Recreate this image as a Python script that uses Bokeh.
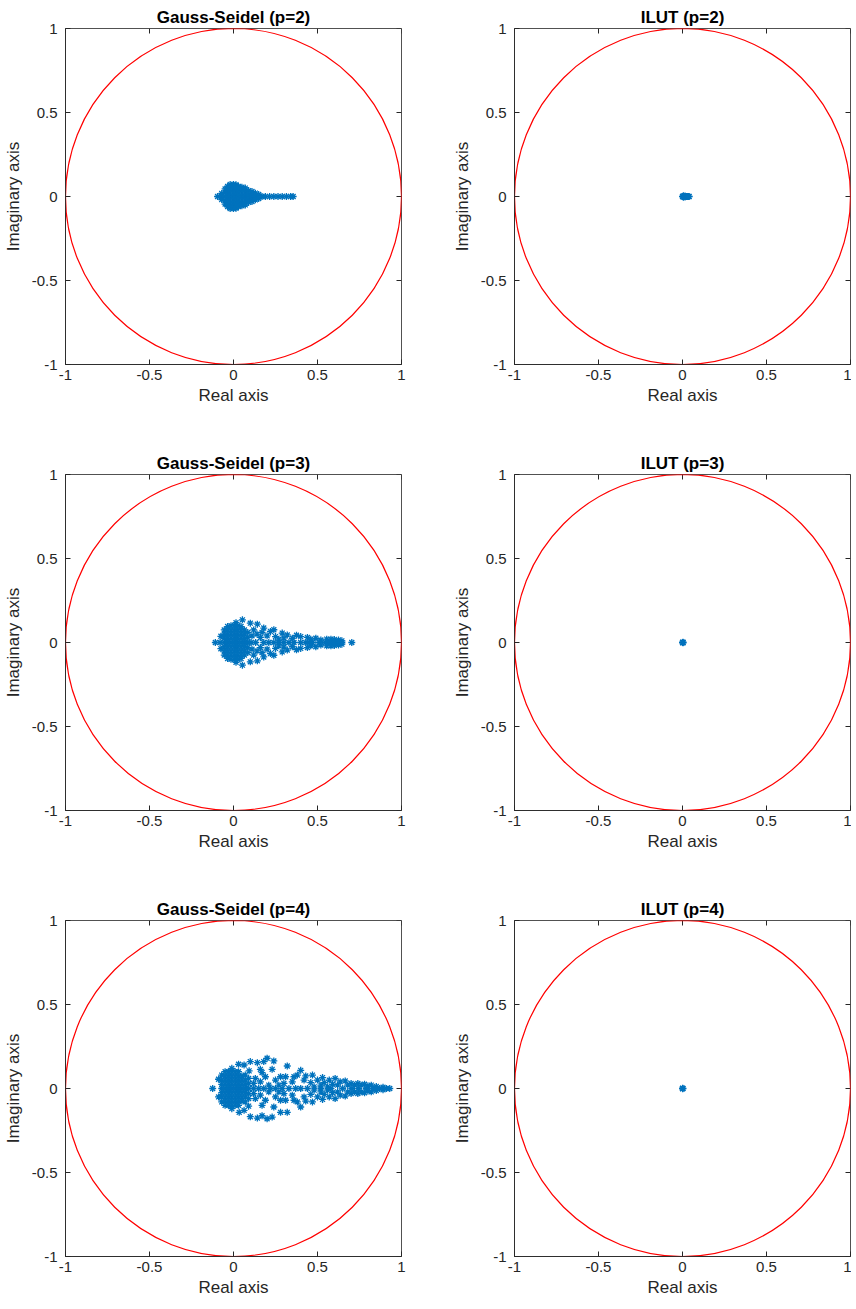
from bokeh.plotting import figure
from bokeh.layouts import gridplot
from bokeh.models import Range1d, FixedTicker, ColumnDataSource
from bokeh.embed import file_html
from bokeh.resources import INLINE

# ---------------- data ----------------
tick_values = [-1, -0.5, 0, 0.5, 1]
tick_labels = ["-1", "-0.5", "0", "0.5", "1"]
circle_center_x = [0.0]
circle_center_y = [0.0]
circle_radius = [1.0]

titles = ["Gauss-Seidel (p=2)", "ILUT (p=2)",
          "Gauss-Seidel (p=3)", "ILUT (p=3)",
          "Gauss-Seidel (p=4)", "ILUT (p=4)"]

# eigenvalues (real, imag)
gs2_points = [
    (-0.095, 0.0),
    (-0.07, 0.0), (-0.07, 0.018), (-0.07, -0.018),
    (-0.05, 0.0), (-0.05, 0.025), (-0.05, -0.025), (-0.05, 0.045), (-0.05, -0.045),
    (-0.035, 0.0), (-0.035, 0.02), (-0.035, -0.02), (-0.035, 0.04), (-0.035, -0.04), (-0.035, 0.06), (-0.035, -0.06),
    (-0.02, 0.0), (-0.02, 0.02), (-0.02, -0.02), (-0.02, 0.04), (-0.02, -0.04), (-0.02, 0.06), (-0.02, -0.06), (-0.02, 0.072), (-0.02, -0.072),
    (0.0, 0.0), (0.0, 0.02), (0.0, -0.02), (0.0, 0.04), (0.0, -0.04), (0.0, 0.06), (0.0, -0.06), (0.0, 0.072), (0.0, -0.072),
    (0.015, 0.0), (0.015, 0.02), (0.015, -0.02), (0.015, 0.04), (0.015, -0.04), (0.015, 0.06), (0.015, -0.06), (0.015, 0.07), (0.015, -0.07),
    (0.03, 0.0), (0.03, 0.02), (0.03, -0.02), (0.03, 0.04), (0.03, -0.04), (0.03, 0.06), (0.03, -0.06),
    (0.05, 0.0), (0.05, 0.02), (0.05, -0.02), (0.05, 0.04), (0.05, -0.04), (0.05, 0.055), (0.05, -0.055),
    (0.07, 0.0), (0.07, 0.02), (0.07, -0.02), (0.07, 0.04), (0.07, -0.04), (0.07, 0.05), (0.07, -0.05),
    (0.09, 0.0), (0.09, 0.015), (0.09, -0.015), (0.09, 0.035), (0.09, -0.035),
    (0.11, 0.0), (0.11, 0.015), (0.11, -0.015), (0.11, 0.03), (0.11, -0.03),
    (0.13, 0.0), (0.13, 0.02), (0.13, -0.02),
    (0.15, 0.0), (0.15, 0.012), (0.15, -0.012),
    (0.17, 0.0), (0.19, 0.0), (0.215, 0.0), (0.24, 0.0), (0.265, 0.0),
    (0.29, 0.0), (0.315, 0.0), (0.34, 0.0), (0.355, 0.0),
]

gs3_points = [
    (-0.108, 0.0), (-0.08, 0.0), (-0.075, 0.037), (-0.075, -0.037),
    (-0.055, 0.0), (-0.055, 0.025), (-0.055, -0.025), (-0.055, 0.05), (-0.055, -0.05), (-0.055, 0.075), (-0.055, -0.075),
    (-0.035, 0.0), (-0.035, 0.025), (-0.035, -0.025), (-0.035, 0.05), (-0.035, -0.05), (-0.035, 0.075), (-0.035, -0.075), (-0.035, 0.095), (-0.035, -0.095),
    (-0.015, 0.0), (-0.015, 0.025), (-0.015, -0.025), (-0.015, 0.05), (-0.015, -0.05), (-0.015, 0.075), (-0.015, -0.075), (-0.015, 0.1), (-0.015, -0.1),
    (0.005, 0.0), (0.005, 0.025), (0.005, -0.025), (0.005, 0.05), (0.005, -0.05), (0.005, 0.075), (0.005, -0.075), (0.005, 0.1), (0.005, -0.1),
    (0.015, 0.118), (0.015, -0.118),
    (0.025, 0.0), (0.025, 0.025), (0.025, -0.025), (0.025, 0.05), (0.025, -0.05), (0.025, 0.075), (0.025, -0.075), (0.025, 0.1), (0.025, -0.1),
    (0.045, 0.0), (0.045, 0.025), (0.045, -0.025), (0.045, 0.05), (0.045, -0.05), (0.045, 0.075), (0.045, -0.075), (0.045, 0.095), (0.045, -0.095),
    (0.053, 0.135), (0.053, -0.135),
    (0.065, 0.0), (0.065, 0.025), (0.065, -0.025), (0.065, 0.05), (0.065, -0.05), (0.065, 0.075), (0.065, -0.075),
    (0.085, 0.0), (0.085, 0.03), (0.085, -0.03), (0.085, 0.06), (0.085, -0.06),
    (0.1, 0.115), (0.1, -0.115), (0.142, 0.109), (0.142, -0.109), (0.18, 0.086), (0.18, -0.086),
    (0.22, 0.066), (0.22, -0.066), (0.24, 0.076), (0.24, -0.076), (0.29, 0.056), (0.29, -0.056),
    (0.3, 0.027), (0.3, -0.027),
    (0.11, 0.04), (0.11, -0.04), (0.12, 0.075), (0.12, -0.075), (0.14, 0.05), (0.14, -0.05),
    (0.16, 0.03), (0.16, -0.03), (0.17, 0.06), (0.17, -0.06), (0.2, 0.04), (0.2, -0.04),
    (0.25, 0.035), (0.25, -0.035), (0.27, 0.02), (0.27, -0.02),
    (0.105, 0.0), (0.132, 0.0), (0.18, 0.0), (0.21, 0.0), (0.24, 0.0), (0.27, 0.0), (0.3, 0.0),
    (0.33, 0.0), (0.36, 0.0), (0.4, 0.0), (0.43, 0.0), (0.45, 0.0), (0.47, 0.0), (0.51, 0.0),
    (0.546, 0.0), (0.566, 0.0), (0.586, 0.0), (0.605, 0.0), (0.625, 0.0), (0.645, 0.0), (0.704, 0.0),
    (0.32, 0.045), (0.32, -0.045), (0.375, 0.043), (0.375, -0.043), (0.35, 0.025), (0.35, -0.025),
    (0.4, 0.035), (0.4, -0.035), (0.44, 0.03), (0.44, -0.03), (0.46, 0.02), (0.46, -0.02),
    (0.49, 0.025), (0.49, -0.025), (0.52, 0.015), (0.52, -0.015), (0.555, 0.02), (0.555, -0.02),
    (0.58, 0.02), (0.58, -0.02), (0.6, 0.018), (0.6, -0.018), (0.625, 0.015), (0.625, -0.015),
    (0.645, 0.01), (0.645, -0.01),
]

gs4_points = [
    (-0.124, 0.0), (-0.089, 0.055), (-0.089, -0.05),
    (-0.07, 0.0), (-0.07, 0.025), (-0.07, -0.025), (-0.07, 0.05), (-0.07, -0.05), (-0.07, 0.08), (-0.07, -0.08),
    (-0.05, 0.0), (-0.05, 0.025), (-0.05, -0.025), (-0.05, 0.05), (-0.05, -0.05), (-0.05, 0.075), (-0.05, -0.075), (-0.05, 0.1), (-0.05, -0.1),
    (-0.03, 0.0), (-0.03, 0.025), (-0.03, -0.025), (-0.03, 0.05), (-0.03, -0.05), (-0.03, 0.075), (-0.03, -0.075), (-0.03, 0.1), (-0.03, -0.1),
    (-0.01, 0.0), (-0.01, 0.025), (-0.01, -0.025), (-0.01, 0.05), (-0.01, -0.05), (-0.01, 0.075), (-0.01, -0.075), (-0.01, 0.1), (-0.01, -0.1), (-0.01, 0.12), (-0.01, -0.12),
    (0.01, 0.0), (0.01, 0.025), (0.01, -0.025), (0.01, 0.05), (0.01, -0.05), (0.01, 0.075), (0.01, -0.075), (0.01, 0.1), (0.01, -0.1),
    (0.03, 0.0), (0.03, 0.025), (0.03, -0.025), (0.03, 0.05), (0.03, -0.05), (0.03, 0.075), (0.03, -0.075), (0.03, 0.1), (0.03, -0.1), (0.03, 0.144), (0.034, -0.142),
    (0.05, 0.0), (0.05, 0.025), (0.05, -0.025), (0.05, 0.05), (0.05, -0.05), (0.05, 0.075), (0.05, -0.075),
    (0.07, 0.0), (0.07, 0.025), (0.07, -0.025), (0.07, 0.05), (0.07, -0.05), (0.07, 0.08), (0.07, -0.08),
    (0.09, 0.0), (0.09, 0.03), (0.09, -0.03), (0.09, 0.06), (0.09, -0.06), (0.093, 0.105), (0.09, -0.105),
    (0.063, 0.14), (0.1, 0.16), (0.142, 0.154), (0.18, 0.16), (0.2, 0.18), (0.23, 0.114), (0.32, 0.134),
    (0.17, 0.095), (0.24, 0.164), (0.16, 0.114), (0.4, 0.108), (0.38, 0.08),
    (0.063, -0.13), (0.1, -0.168), (0.142, -0.176), (0.17, -0.162), (0.2, -0.18), (0.23, -0.17),
    (0.32, -0.142), (0.28, -0.142), (0.17, -0.1), (0.24, -0.11), (0.4, -0.11), (0.38, -0.08),
    (0.12, 0.03), (0.12, -0.03), (0.13, 0.06), (0.13, -0.06), (0.15, 0.0), (0.16, 0.04), (0.16, -0.04),
    (0.19, 0.07), (0.19, -0.07), (0.21, 0.02), (0.21, -0.02), (0.22, 0.0), (0.25, 0.05), (0.25, -0.05),
    (0.27, 0.02), (0.27, -0.02), (0.28, 0.07), (0.28, -0.07), (0.31, 0.07), (0.31, -0.07),
    (0.3, 0.03), (0.3, -0.03), (0.33, 0.0), (0.35, 0.04), (0.35, -0.04), (0.36, 0.07), (0.36, -0.07),
    (0.12, 0.0), (0.18, 0.0), (0.25, 0.0), (0.29, 0.0), (0.37, 0.0), (0.4, 0.0), (0.52, 0.0), (0.58, 0.0),
    (0.42, 0.05), (0.42, -0.05), (0.43, 0.075), (0.43, -0.075), (0.44, 0.0), (0.46, 0.035), (0.46, -0.035),
    (0.47, 0.08), (0.47, -0.08), (0.48, 0.01), (0.48, -0.01), (0.5, 0.05), (0.5, -0.05),
    (0.52, 0.02), (0.52, -0.02), (0.53, 0.065), (0.53, -0.065), (0.54, 0.035), (0.54, -0.035),
    (0.56, 0.01), (0.56, -0.01), (0.57, 0.05), (0.57, -0.05), (0.59, 0.025), (0.59, -0.025),
    (0.605, 0.06), (0.605, -0.06), (0.62, 0.02), (0.62, -0.02), (0.635, 0.04), (0.635, -0.04),
    (0.65, 0.0), (0.665, 0.045), (0.665, -0.045),
    (0.68, 0.02), (0.68, -0.02), (0.7, 0.03), (0.7, -0.03), (0.705, 0.0), (0.72, 0.02), (0.72, -0.02),
    (0.74, 0.03), (0.74, -0.03), (0.745, 0.0), (0.76, 0.02), (0.76, -0.02), (0.78, 0.025), (0.78, -0.025),
    (0.79, 0.0), (0.8, 0.015), (0.8, -0.015), (0.82, 0.02), (0.82, -0.02), (0.83, 0.0),
    (0.85, 0.012), (0.85, -0.012), (0.87, 0.0), (0.89, 0.008), (0.89, -0.008), (0.91, 0.0), (0.93, 0.0),
]

ilut2_points = [
    (0.0, 0.0), (0.005, 0.004), (0.005, -0.004), (0.01, 0.0), (0.015, 0.003), (0.015, -0.003),
    (0.02, 0.0), (0.025, 0.0), (0.03, 0.0), (0.035, 0.0), (0.04, 0.0),
]
ilut3_points = [(0.0, 0.0), (0.002, 0.0), (0.003, 0.002), (0.003, -0.002)]
ilut4_points = [(0.0, 0.0), (0.002, 0.0), (0.001, 0.001), (0.001, -0.001)]

panel_points = [gs2_points, ilut2_points, gs3_points, ilut3_points, gs4_points, ilut4_points]

# ---------------- styling ----------------
FONT = "Liberation Sans"
AX_COL = "#262626"
MARK_COL = "#0072BD"
FRAME = 336
TICK_LEN = 5.0 / (FRAME / 2.0)   # 5 px expressed in data units


def make_panel(idx):
    row, col = divmod(idx, 2)
    p = figure(frame_width=FRAME, frame_height=FRAME,
               x_range=Range1d(-1, 1), y_range=Range1d(-1, 1),
               output_backend="svg", toolbar_location=None,
               min_border_left=64,
               min_border_right=(48 if col == 0 else 1),
               min_border_top=28,
               min_border_bottom=(82 if row < 2 else 44))
    p.title.text = titles[idx]
    p.title.text_font = FONT
    p.title.text_font_size = "17px"
    p.title.text_font_style = "bold"
    p.title.text_color = "#000000"
    p.title.align = "center"
    p.title.standoff = 4
    p.xgrid.visible = False
    p.ygrid.visible = False
    p.outline_line_color = AX_COL
    p.outline_line_width = 1
    p.outline_line_alpha = 0.8
    p.background_fill_color = "white"
    p.border_fill_color = "white"

    overrides = {v: l for v, l in zip(tick_values, tick_labels)}
    for ax in (p.xaxis[0], p.yaxis[0]):
        ax.ticker = FixedTicker(ticks=tick_values)
        ax.major_label_overrides = overrides
        ax.major_label_text_font = FONT
        ax.major_label_text_font_size = "15px"
        ax.major_label_text_color = AX_COL
        ax.axis_label_text_font = FONT
        ax.axis_label_text_font_size = "17px"
        ax.axis_label_text_font_style = "normal"
        ax.axis_label_text_color = AX_COL
        ax.major_tick_in = 5
        ax.major_tick_out = 0
        ax.minor_tick_line_color = None
        ax.axis_line_color = AX_COL
        ax.axis_line_alpha = 0.8
        ax.major_tick_line_color = AX_COL
    p.xaxis[0].axis_label = "Real axis"
    p.yaxis[0].axis_label = "Imaginary axis"
    p.xaxis[0].major_label_standoff = 5
    p.xaxis[0].axis_label_standoff = 3
    p.yaxis[0].major_label_standoff = 8
    p.yaxis[0].axis_label_standoff = 6

    # mirrored tick marks on the top and right edges of the box
    p.segment(x0=tick_values, y0=[1.0] * len(tick_values),
              x1=tick_values, y1=[1.0 - TICK_LEN] * len(tick_values),
              line_color=AX_COL, line_width=1)
    p.segment(x0=[1.0] * len(tick_values), y0=tick_values,
              x1=[1.0 - TICK_LEN] * len(tick_values), y1=tick_values,
              line_color=AX_COL, line_width=1)

    p.circle(x=circle_center_x, y=circle_center_y, radius=circle_radius,
             fill_color=None, line_color="#FF0000", line_width=1.2)

    pts = panel_points[idx]
    src = ColumnDataSource(data=dict(x=[a for a, b in pts], y=[b for a, b in pts]))
    p.scatter("x", "y", source=src, marker="asterisk", size=7,
              line_color=MARK_COL, line_width=1.3)
    return p


panels = [make_panel(i) for i in range(6)]
grid = gridplot([[panels[0], panels[1]], [panels[2], panels[3]], [panels[4], panels[5]]],
                toolbar_location=None)

open("out.html", "w").write(file_html(grid, INLINE))
